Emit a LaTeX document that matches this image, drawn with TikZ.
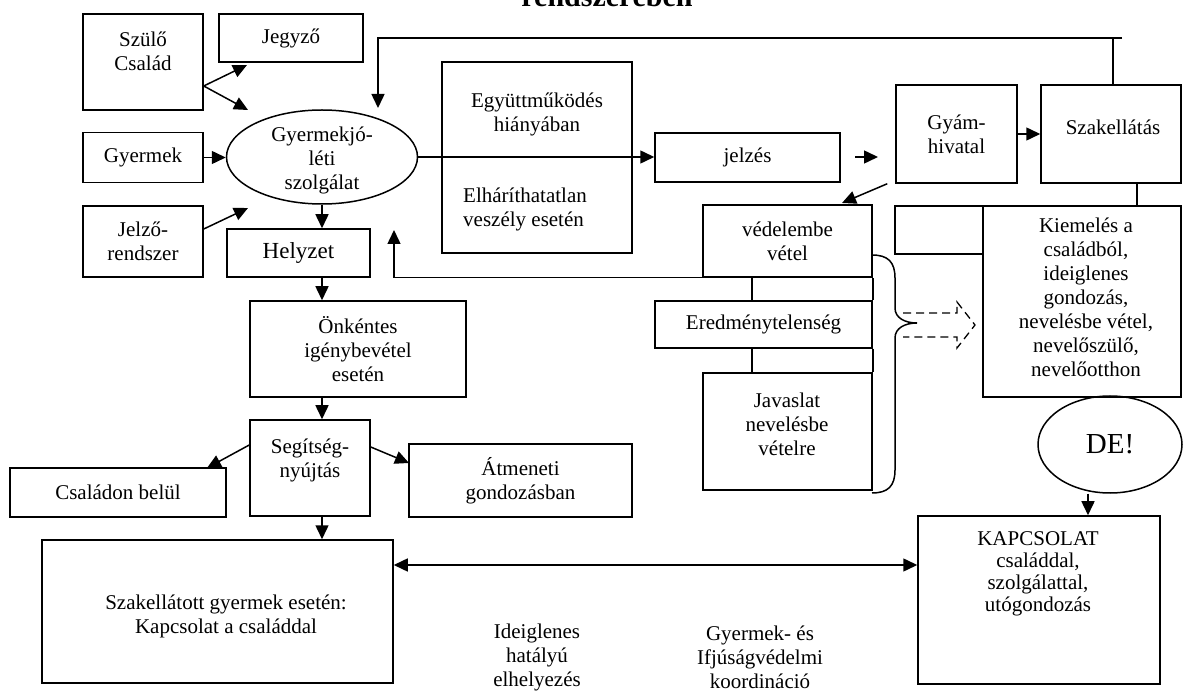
\documentclass[tikz,border=0pt]{standalone}
\usepackage{fontspec}
\setmainfont{Liberation Serif}
\usetikzlibrary{arrows.meta,shapes.geometric}

\tikzset{
	doboz/.style={draw, rectangle, inner sep=0pt},
	szoveg/.style={align=center, inner sep=0pt, font=\fontsize{21}{24}\selectfont},
	nyil/.style={-{Triangle[length=14pt,width=13pt]}},
}

\begin{document}
\begin{tikzpicture}[x=1pt, y=-1pt, line width=1.5pt]
				\useasboundingbox (0,0) rectangle (1184,692);
				\clip (0,0) rectangle (1184,692);
				\node[anchor=base, inner sep=0pt, font=\bfseries\fontsize{30}{32}\selectfont] (cim) at (607,7) {rendszerében};

				\node[doboz, minimum width=120, minimum height=96] (szulo) at (143,62) {};
				\node[szoveg] (szulot) at (143,51) {Szülő\\Család};
				\node[doboz, szoveg, minimum width=144, minimum height=48] (jegyzo) at (291,38) {Jegyző};
				\node[doboz, szoveg, minimum width=120, minimum height=50] (gyermek) at (143,157.5) {Gyermek};
				\node[doboz, szoveg, minimum width=120, minimum height=71] (jelzo) at (143,241.5) {Jelző-\\rendszer};
				\node[draw, ellipse, inner sep=0pt, minimum width=191, minimum height=94] (gyjsz) at (322,157) {};
				\node[szoveg] (gyjszt) at (322,160) {Gyermekjó-\\léti\\szolgálat};
				\node[doboz, minimum width=143, minimum height=48, font=\fontsize{23}{26}\selectfont] (helyzet) at (298.5,253) {Helyzet};

				\node[doboz, minimum width=190, minimum height=191] (egyutt) at (537,157.5) {};
				\node[szoveg] (egyutt1) at (537,114) {Együttműködés\\hiányában};
				\node[szoveg, align=left] (egyutt2) at (525,209) {Elháríthatatlan\\veszély esetén};
				\node[doboz, szoveg, minimum width=185, minimum height=49] (jelzes) at (747.5,157.5) {jelzés};
				\node[doboz, szoveg, minimum width=121, minimum height=98] (gyam) at (956.5,134) {Gyám-\\hivatal};
				\node[doboz, minimum width=140, minimum height=98] (szakell) at (1111,134) {};
				\node[szoveg] (szakellt) at (1113,127) {Szakellátás};

				\node[doboz, minimum width=88, minimum height=48] (ures) at (939,230) {};
				\node[doboz, minimum width=198, minimum height=191] (kiemeles) at (1082,301.5) {};
				\node[szoveg] (kiemelest) at (1086,297) {Kiemelés a\\családból,\\ideiglenes\\gondozás,\\nevelésbe vétel,\\nevelőszülő,\\nevelőotthon};
				\node[draw, ellipse, inner sep=0pt, minimum width=144, minimum height=97, font=\fontsize{29}{32}\selectfont] (de) at (1110,444.5) {DE!};
				\node[doboz, minimum width=242, minimum height=168] (kapcsolat) at (1039,600) {};
				\node[szoveg, font=\fontsize{21}{22}\selectfont] (kapcsolatt) at (1038,574) {KAPCSOLAT\\családdal,\\szolgálattal,\\utógondozás};

				\node[doboz, szoveg, minimum width=169, minimum height=72] (vedelem) at (787.5,241) {védelembe\\vétel};
				\node[doboz, szoveg, minimum width=217, minimum height=47] (eredm) at (763.5,324.5) {Eredménytelenség};
				\node[doboz, minimum width=169, minimum height=117] (javaslat) at (787.5,431.5) {};
				\node[szoveg] (javaslatt) at (787,424) {Javaslat\\nevelésbe\\vételre};
				\draw (eredm.north east) -- (vedelem.south east);
				\draw ([xshift=-121pt]eredm.north east) -- ([xshift=-121pt]vedelem.south east);
				\draw (eredm.south east) -- (javaslat.north east);
				\draw ([xshift=-121pt]eredm.south east) -- ([xshift=-121pt]javaslat.north east);

				\node[doboz, szoveg, minimum width=216, minimum height=96] (onkentes) at (358,349) {Önkéntes\\igénybevétel\\esetén};
				\node[doboz, minimum width=120, minimum height=96] (segitseg) at (310,468) {};
				\node[szoveg] (segitsegt) at (310,460) {Segítség-\\nyújtás};
				\node[doboz, szoveg, minimum width=216, minimum height=49] (csaladon) at (118,492.5) {Családon belül};
				\node[doboz, szoveg, minimum width=223, minimum height=73] (atmeneti) at (520.5,480.5) {Átmeneti\\gondozásban};
				\node[doboz, minimum width=351, minimum height=143] (szakellatott) at (217.5,611.5) {};
				\node[szoveg] (szakellatottt) at (226,616) {Szakellátott gyermek esetén:\\Kapcsolat a családdal};
				\node[szoveg] (ideiglenes) at (537,657) {Ideiglenes\\hatályú\\elhelyezés};
				\node[szoveg] (koordinacio) at (760,657) {Gyermek- és\\Ifjúságvédelmi\\koordináció};

				\coordinate (jegyzoba) at (247,65);
				\coordinate (gyjszfb) at (248,110);
				\coordinate (gyjszba) at (248,208);
				\coordinate (visszafent) at (378,108);
				\coordinate (felsosarok) at (1122,38);
				\coordinate (helyzetja) at (394,230);
				\coordinate (kisnyil1) at (855,157);
				\coordinate (kisnyil2) at (878,157);
				\coordinate (vedelemjf) at (842,203);
				\coordinate (csaladonf) at (207,468);
				\coordinate (atmenetibf) at (409,463);

				\draw[nyil] ([yshift=-24pt]szulo.east) -- (jegyzoba);
				\draw[nyil] ([yshift=-24pt]szulo.east) -- (gyjszfb);
				\draw[nyil] (gyermek.east) -- (gyermek.east -| gyjsz.west);
				\draw[nyil] ([yshift=12.5pt]jelzo.east) -- (gyjszba);
				\draw[nyil] (gyjsz.south) -- (gyjsz.south |- helyzet.north);
				\draw[nyil] (felsosarok) -| (visszafent);
				\draw ([xshift=2pt]szakell.north) -- ([xshift=2pt]szakell.north |- felsosarok);
				\draw[nyil] (gyjsz.east) -- (gyjsz.east -| jelzes.west);
				\draw[nyil] (kisnyil1) -- (kisnyil2);
				\draw[nyil] (gyam.east) -- (gyam.east -| szakell.west);
				\draw[nyil] ([xshift=-8pt]gyam.south west) -- (vedelemjf);
				\draw ([xshift=26pt]szakell.south) -- ([xshift=26pt]szakell.south |- kiemeles.north);
				\draw[nyil] (vedelem.south west) -| (helyzetja);
				\draw[nyil] (helyzet.south -| gyjsz) -- (onkentes.north -| gyjsz);
				\draw[nyil] (onkentes.south -| gyjsz) -- (segitseg.north -| gyjsz);
				\draw[nyil] ([yshift=23pt]segitseg.west) -- (csaladonf);
				\draw[nyil] ([yshift=21pt]segitseg.east) -- (atmenetibf);
				\draw[nyil] (segitseg.south -| gyjsz) -- (szakellatott.north -| gyjsz);
				\draw[{Triangle[length=14pt,width=13pt]}-{Triangle[length=14pt,width=13pt]}] ([yshift=46.5pt]szakellatott.east) -- ([yshift=46.5pt]szakellatott.east -| kapcsolat.west);
				\draw[nyil] ([xshift=-22pt]de.south) -- ([xshift=-22pt]de.south |- kapcsolat.north);

				\draw (872,255) .. controls (888,255) and (895,262) .. (895,278) -- (895,308) .. controls (895,318) and (905,323) .. (917,323) .. controls (905,323) and (895,328) .. (895,338) -- (895,470) .. controls (895,486) and (888,493) .. (872,493);
				\draw[line width=1.3pt, dash pattern=on 8pt off 5pt] (903,313) -- (957,313) -- (957,302) -- (975,325) -- (957,348) -- (957,337) -- (903,337);
\end{tikzpicture}
\end{document}
